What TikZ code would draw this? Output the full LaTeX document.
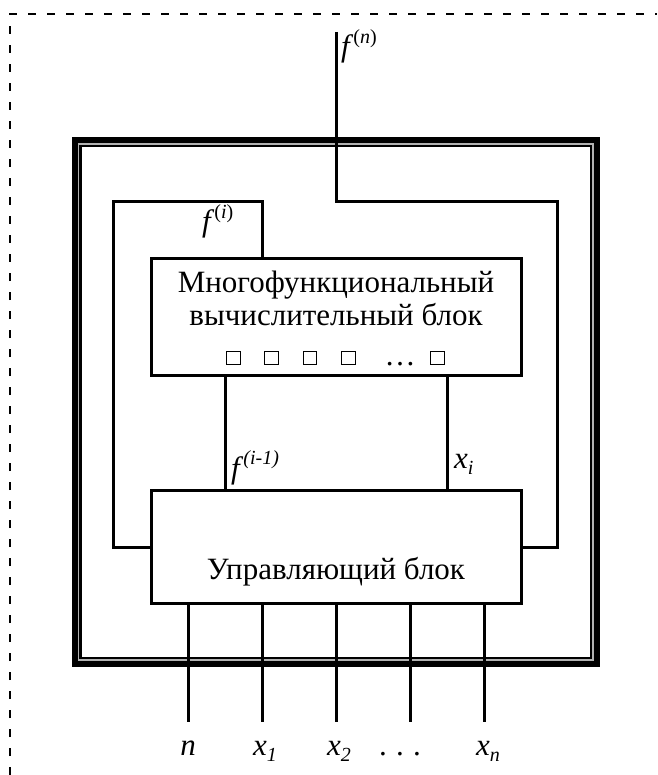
\documentclass[tikz,border=0pt]{standalone}
\usepackage{fontspec}
\setmainfont{Liberation Serif}
\begin{document}
\begin{tikzpicture}[x=1pt,y=-1pt,
  wire/.style={line width=3pt},
  blk/.style={draw,line width=3pt,inner sep=0pt},
  sq/.style={draw,line width=1.2pt,minimum size=13.5pt,inner sep=0pt},
  txt/.style={font=\fontsize{31}{34}\selectfont,inner sep=0pt},
  lbl/.style={font=\fontsize{31}{34}\selectfont,inner sep=0pt},
  dsh/.style={line width=1.5pt,dash pattern=on 8pt off 11pt}]
\useasboundingbox (0,0) rectangle (657,775);
% dashed frame
\draw[dsh] (10,775) -- (10,14) -- (657,14);
% outer frame
\draw[line width=10pt] (77,142.5) rectangle (594.5,661.5);
\draw[line width=1.6pt,gray!60] (78.5,144) rectangle (593,660);
% blocks
\node[blk,minimum width=370pt,minimum height=116pt] (mfb) at (336,317) {};
\node[blk,minimum width=370pt,minimum height=113pt] (ub) at (336,546.5) {};
\node[txt,anchor=base] (t1) at (336,292) {Многофункциональный};
\node[txt,anchor=base] (t2) at (336,325) {вычислительный блок};
\node[sq] (s1) at (233.5,358) {};
\node[sq] (s2) at (271.5,358) {};
\node[sq] (s3) at (310,358) {};
\node[sq] (s4) at (348.5,358) {};
\node[txt,anchor=base] (sd) at (400,365) {\dots};
\node[sq] (s5) at (437.5,358) {};
\node[txt,anchor=base] (t3) at (336,579) {Управляющий блок};
% coordinates
\coordinate (top) at (336,32);
% f(n) loop
\draw[wire] (top) -- (336,202) -- (557,202) -- (557,547) -- (ub.east |- 0,547);
% left loop
\draw[wire] (ub.west |- 0,547) -- (113,547) -- (113,202) -- (262,202) -- (mfb.north -| 262,0);
% middle
\draw[wire] (mfb.south -| 225,0) -- (ub.north -| 225,0);
\draw[wire] (mfb.south -| 447,0) -- (ub.north -| 447,0);
% inputs
\foreach \x/\n in {188/a,262/b,336/c,410/d,484/e}{
  \coordinate (in\n) at (\x,722);
  \draw[wire] (ub.south -| \x,0) -- (in\n);
}
% labels
\node[lbl,anchor=base west] (lfn) at (341,57) {\textit{f}\raisebox{0.42em}{\fontsize{20}{20}\selectfont(\textit{n})}};
\node[lbl,anchor=base west] (lfi) at (202,232) {\textit{f}\raisebox{0.42em}{\fontsize{20}{20}\selectfont(\textit{i})}};
\node[lbl,anchor=base west] (lfi1) at (231,478) {\textit{f}\raisebox{0.42em}{\fontsize{20}{20}\selectfont\textit{(i-1)}}};
\node[lbl,anchor=base west] (lxi) at (454,468) {\textit{x}\raisebox{-0.2em}{\fontsize{20}{20}\selectfont\textit{i}}};
\node[lbl,anchor=base] (ln) at (188,755) {\textit{n}};
\node[lbl,anchor=base] (lx1) at (265,755) {\textit{x}\raisebox{-0.2em}{\fontsize{20}{20}\selectfont\textit{1}}};
\node[lbl,anchor=base] (lx2) at (339,755) {\textit{x}\raisebox{-0.2em}{\fontsize{20}{20}\selectfont\textit{2}}};
\node[lbl,anchor=base] (ldots) at (400,755) {.\hspace{0.3em}.\hspace{0.3em}.};
\node[lbl,anchor=base] (lxn) at (488,755) {\textit{x}\raisebox{-0.2em}{\fontsize{20}{20}\selectfont\textit{n}}};
\end{tikzpicture}
\end{document}
